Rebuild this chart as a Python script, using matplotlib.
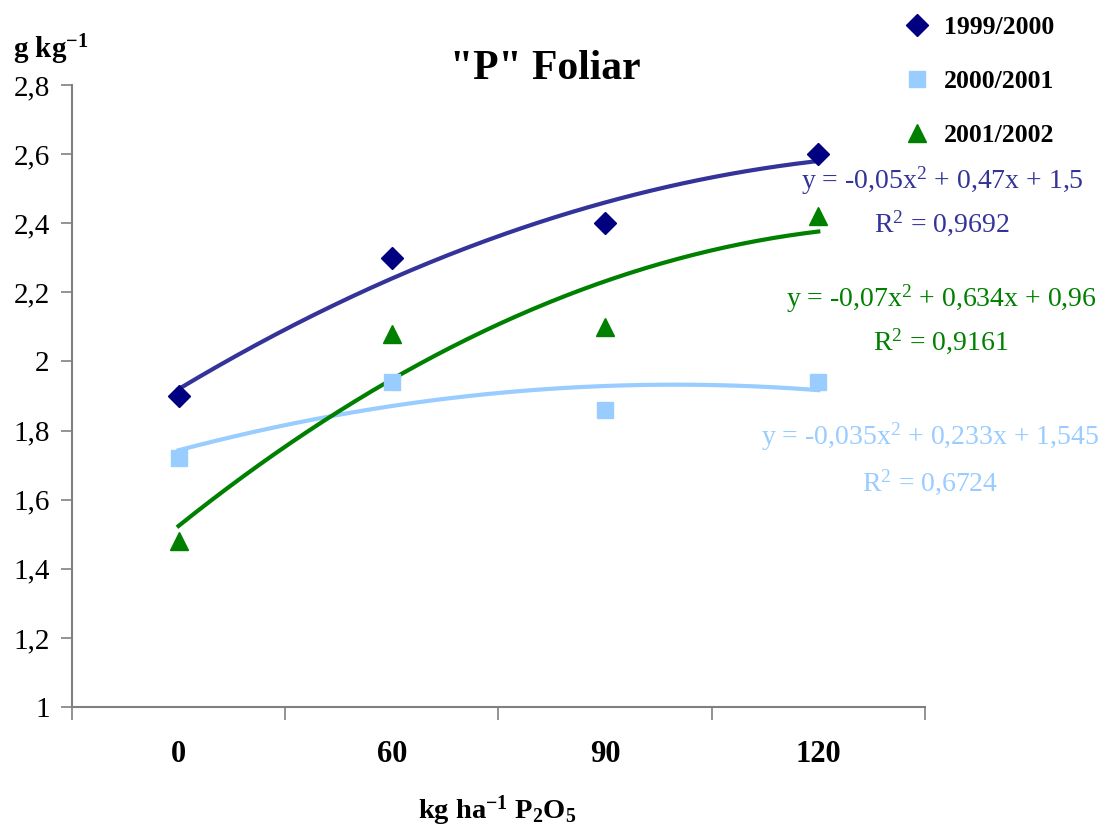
import numpy as np
import matplotlib
matplotlib.use("Agg")
import matplotlib.pyplot as plt
from matplotlib.ticker import FixedLocator, NullFormatter

plt.rcParams['font.family'] = ['Liberation Serif', 'DejaVu Serif']
plt.rcParams['mathtext.fontset'] = 'custom'
plt.rcParams['mathtext.rm'] = 'Liberation Serif'
plt.rcParams['mathtext.it'] = 'Liberation Serif'
plt.rcParams['mathtext.bf'] = 'Liberation Serif:bold'

doses = ['0', '60', '90', '120']
p_1999 = [1.9, 2.3, 2.4, 2.6]
p_2000 = [1.72, 1.94, 1.86, 1.94]
p_2001 = [1.48, 2.08, 2.1, 2.42]

labels = ['1999/2000', '2000/2001', '2001/2002']
eqs = ['y = -0,05x$^2$ + 0,47x + 1,5', 'y = -0,035x$^2$ + 0,233x + 1,545', 'y = -0,07x$^2$ + 0,634x + 0,96']
r2s = ['R$^2$ = 0,9692', 'R$^2$ = 0,6724', 'R$^2$ = 0,9161']

mk_colors = ['#000080', '#99CCFF', '#008000']
ln_colors = ['#333399', '#99CCFF', '#008000']
markers = ['D', 's', '^']
msizes = [11, 11, 13]

fig = plt.figure(figsize=(11.02, 8.31), dpi=100)
ax = fig.add_axes([0.0653, 0.1492, 0.774, 0.7485])

x = np.arange(1, len(doses) + 1)
xs = np.linspace(1, 4, 200)
handles = []
for ys, mc, lc, m, ms, lab in zip([p_1999, p_2000, p_2001], mk_colors, ln_colors, markers, msizes, labels):
    coef = np.polyfit(x, ys, 2)
    ax.plot(xs, np.polyval(coef, xs), color=lc, lw=3, zorder=2)
    h, = ax.plot(x, ys, linestyle='none', marker=m, ms=ms, color=mc, mec=mc, label=lab, zorder=3)
    handles.append(h)

ax.set_xlim(0.5, 4.5)
ax.set_ylim(1, 2.8)
ax.set_yticks(np.arange(1, 2.81, 0.2))
ax.set_yticklabels(['1', '1,2', '1,4', '1,6', '1,8', '2', '2,2', '2,4', '2,6', '2,8'], fontsize=21)
ax.set_xticks(x)
ax.set_xticklabels(doses, fontsize=22, fontweight='bold')
ax.xaxis.set_minor_locator(FixedLocator(np.arange(0.5, 4.6, 1)))
ax.xaxis.set_minor_formatter(NullFormatter())
ax.tick_params(axis='x', which='major', length=0, pad=24)
ax.tick_params(axis='x', which='minor', length=9, width=1.2, color='#808080', direction='out')
ax.tick_params(axis='y', length=8, width=1.2, color='#808080', direction='out', pad=8)
for s in ['top', 'right']:
    ax.spines[s].set_visible(False)
for s in ['left', 'bottom']:
    ax.spines[s].set_color('#808080')
    ax.spines[s].set_linewidth(1.5)

fig.legend(handles=handles, loc='upper left', bbox_to_anchor=(0.797, 1.008), frameon=False,
           prop={'weight': 'bold', 'size': 18.5}, labelspacing=1.2, handletextpad=0.45,
           handlelength=1.2)

eq_pos = [(0.855, 0.783, 0.732), (0.844, 0.474, 0.420), (0.854, 0.641, 0.590)]
for (xp, y1, y2), e, r, c in zip(eq_pos, eqs, r2s, ln_colors):
    fig.text(xp, y1, e, color=c, fontsize=20, ha='center', va='center')
    fig.text(xp, y2, r, color=c, fontsize=20, ha='center', va='center')

fig.text(0.495, 0.917, '"P" Foliar', fontsize=30, fontweight='bold', ha='center', va='center')
fig.text(0.012, 0.94, r'g kg$^{\mathbf{-1}}$', fontsize=21, fontweight='bold', ha='left', va='center')
fig.text(0.451, 0.024, r'kg ha$^{\mathbf{-1}}$ P$_{\mathbf{2}}$O$_{\mathbf{5}}$', fontsize=20.5,
         fontweight='bold', ha='center', va='center')

fig.savefig('out.png', dpi=100)
